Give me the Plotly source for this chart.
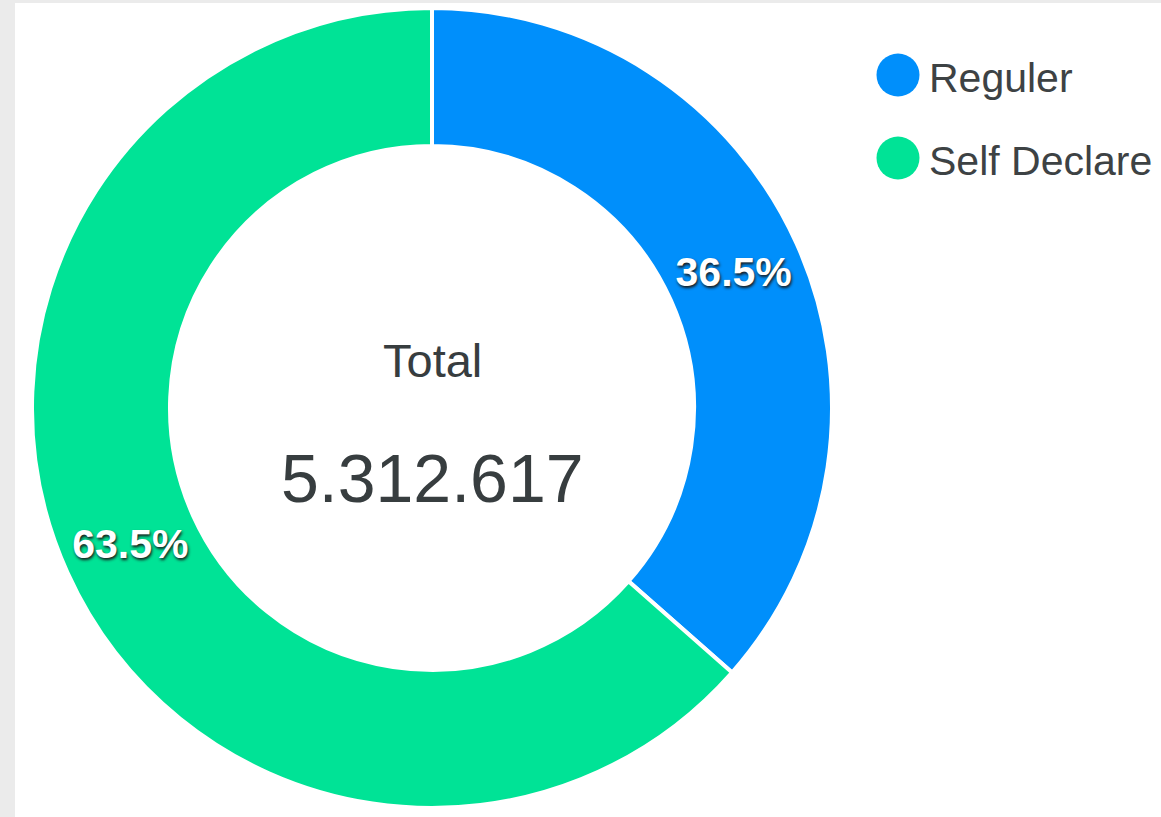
import plotly.graph_objects as go

# Data
labels = ["Reguler", "Self Declare"]
values = [1939105, 3373512]
colors = ["#008FFB", "#00E396"]
center_label = "Total"

W, H = 1161, 817
FONT = "Liberation Sans, Arial, sans-serif"

total = sum(values)
total_text = f"{total:,}".replace(",", ".")

fig = go.Figure()
fig.add_trace(go.Pie(
    labels=labels,
    values=values,
    hole=0.655,
    sort=False,
    direction="clockwise",
    rotation=0,
    marker=dict(colors=colors, line=dict(color="white", width=4)),
    textinfo="percent",
    texttemplate="%{percent:.1%}",
    textposition="inside",
    insidetextorientation="horizontal",
    textfont=dict(family=FONT, size=41, color="white",
                  weight="bold", shadow="1px 2px 3px #1a1a1a"),
    domain=dict(x=[32 / W, 832 / W], y=[9 / H, 809 / H]),
    showlegend=False,
    hoverinfo="label+value+percent",
))

shapes = [
    # white card on grey page background
    dict(type="rect", xref="paper", yref="paper", x0=15 / W, x1=1, y0=0, y1=1 - 3 / H,
         fillcolor="white", line=dict(width=0), layer="below"),
]
annotations = [
    dict(text=center_label, x=432 / W, y=1 - 360 / H, xref="paper", yref="paper",
         showarrow=False, xanchor="center", yanchor="middle",
         font=dict(family=FONT, size=47, color="#373d3f")),
    dict(text=total_text, x=432 / W, y=1 - 478 / H, xref="paper", yref="paper",
         showarrow=False, xanchor="center", yanchor="middle",
         font=dict(family=FONT, size=68, color="#373d3f")),
]

# Custom legend with circular markers
for i, (lab, col) in enumerate(zip(labels, colors)):
    cy = 75 + i * 83
    r = 21.5
    shapes.append(dict(type="circle", xref="paper", yref="paper",
                       x0=(898 - r) / W, x1=(898 + r) / W,
                       y0=1 - (cy + r) / H, y1=1 - (cy - r) / H,
                       fillcolor=col, line=dict(width=0)))
    annotations.append(dict(text=lab, x=927 / W, y=1 - (cy + 3) / H, xref="paper", yref="paper",
                            showarrow=False, xanchor="left", yanchor="middle",
                            font=dict(family=FONT, size=41, color="#3d4244")))

fig.update_layout(
    width=W, height=H,
    margin=dict(l=0, r=0, t=0, b=0),
    paper_bgcolor="#ebebeb",
    plot_bgcolor="white",
    shapes=shapes,
    annotations=annotations,
)

fig.write_html("out.html",
               config={"displayModeBar": False},
               post_script="document.body.style.margin='0px';document.body.style.overflow='hidden';")
